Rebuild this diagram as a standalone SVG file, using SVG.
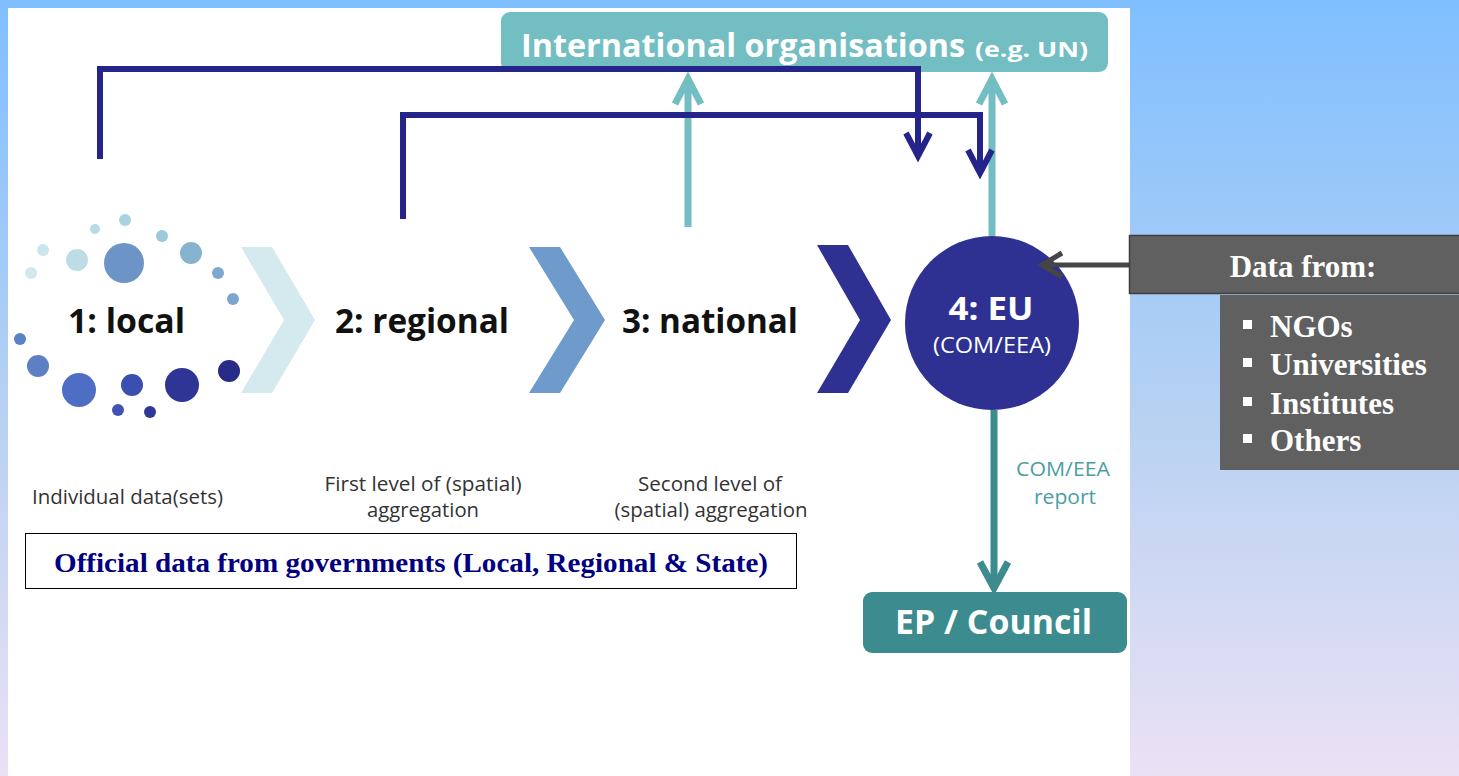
<svg xmlns="http://www.w3.org/2000/svg" width="1459" height="776" viewBox="0 0 1459 776">
<defs>
<linearGradient id="bg" x1="0" y1="0" x2="0" y2="1">
<stop offset="0" stop-color="#7fbfff"/>
<stop offset="0.55" stop-color="#b9d2f2"/>
<stop offset="1" stop-color="#ebe1f5"/>
</linearGradient>
</defs>
<style>
.lbl{font-family:"Open Sans","Liberation Sans",sans-serif;font-weight:700;fill:#111;}
.sub{font-family:"Open Sans","Liberation Sans",sans-serif;font-weight:400;fill:#333;font-size:20px;}
.wt{font-family:"Open Sans","Liberation Sans",sans-serif;font-weight:700;fill:#fff;}
.tm{font-family:"Liberation Serif","Times New Roman",serif;font-weight:bold;}
.blue{fill:none;stroke:#24248a;stroke-width:6;}
.tealL{fill:none;stroke:#72bec2;stroke-width:7;}
.tealD{fill:none;stroke:#3b8b8f;stroke-width:7;}
.gray{fill:none;stroke:#454545;stroke-width:5;}
</style>
<rect x="0" y="0" width="1459" height="776" fill="url(#bg)"/>
<rect x="8" y="8" width="1122" height="768" fill="#ffffff"/>

<g id="intl">
<rect x="501" y="12" width="607" height="60" rx="9" fill="#72bec2"/>
<text class="wt" x="521" y="57" font-size="33" textLength="444" lengthAdjust="spacingAndGlyphs">International organisations</text>
<text class="wt" x="975" y="57" font-size="22" textLength="113" lengthAdjust="spacingAndGlyphs">(e.g. UN)</text>
</g>

<g id="local">
<circle cx="125" cy="220" r="6" fill="#a9d3e0"/>
<circle cx="95" cy="229" r="5" fill="#b6dbe6"/>
<circle cx="162" cy="236" r="6" fill="#9cc8dc"/>
<circle cx="43" cy="250" r="6" fill="#cbe5ec"/>
<circle cx="77" cy="260" r="11" fill="#bcdde6"/>
<circle cx="124" cy="263" r="20" fill="#6c94c6"/>
<circle cx="191" cy="253" r="11" fill="#86b4cf"/>
<circle cx="31" cy="273" r="6" fill="#d3e8ee"/>
<circle cx="218" cy="273" r="6" fill="#7fa9cc"/>
<circle cx="233" cy="299" r="6" fill="#7aa6cf"/>
<circle cx="20" cy="339" r="6" fill="#5a82c6"/>
<circle cx="38" cy="366" r="11" fill="#5b80c4"/>
<circle cx="79" cy="390" r="17" fill="#4d6ec4"/>
<circle cx="132" cy="385" r="11" fill="#3b4fb0"/>
<circle cx="182" cy="385" r="17" fill="#2f3594"/>
<circle cx="229" cy="371" r="11" fill="#272c88"/>
<circle cx="118" cy="410" r="6" fill="#4253b2"/>
<circle cx="150" cy="412" r="6" fill="#30379a"/>
<text class="lbl" x="68" y="333" font-size="34" textLength="117" lengthAdjust="spacingAndGlyphs">1: local</text>
<text class="sub" x="32" y="504" textLength="191" lengthAdjust="spacingAndGlyphs">Individual data(sets)</text>
</g>

<g id="chevrons">
<polygon points="241,247 272,247 315,320 272,393 241,393 284,320" fill="#d5eaef"/>
<polygon points="529,247 560,247 605,320 560,393 529,393 574,320" fill="#6e9bcc"/>
<polygon points="817,245 848,245 891,320 848,393 817,393 860,320" fill="#2e3192"/>
</g>

<g id="regional">
<text class="lbl" x="335" y="333" font-size="34" textLength="174" lengthAdjust="spacingAndGlyphs">2: regional</text>
<text class="sub" x="423" y="491" text-anchor="middle" textLength="197" lengthAdjust="spacingAndGlyphs">First level of (spatial)</text>
<text class="sub" x="423" y="517" text-anchor="middle" textLength="112" lengthAdjust="spacingAndGlyphs">aggregation</text>
</g>

<g id="national">
<text class="lbl" x="622" y="333" font-size="34" textLength="176" lengthAdjust="spacingAndGlyphs">3: national</text>
<text class="sub" x="710" y="491" text-anchor="middle" textLength="144" lengthAdjust="spacingAndGlyphs">Second level of</text>
<text class="sub" x="711" y="517" text-anchor="middle" textLength="193" lengthAdjust="spacingAndGlyphs">(spatial) aggregation</text>
</g>

<g id="official">
<rect x="25.5" y="533.5" width="771" height="55" fill="#ffffff" stroke="#000" stroke-width="1"/>
<text class="tm" x="411" y="572" text-anchor="middle" font-size="28" fill="#000080" textLength="714" lengthAdjust="spacingAndGlyphs">Official data from governments (Local, Regional &amp; State)</text>
</g>

<g id="eu">
<circle cx="992" cy="323" r="87" fill="#2e3192"/>
<text class="wt" x="991" y="320" text-anchor="middle" font-size="32" textLength="85" lengthAdjust="spacingAndGlyphs">4: EU</text>
<text x="992" y="353" text-anchor="middle" font-family="Open Sans, Liberation Sans, sans-serif" font-size="21" fill="#fff" textLength="118" lengthAdjust="spacingAndGlyphs">(COM/EEA)</text>
</g>

<g id="report-label">
<text x="1063" y="476" text-anchor="middle" font-family="Open Sans, Liberation Sans, sans-serif" font-size="20" fill="#4a9ea4" textLength="94" lengthAdjust="spacingAndGlyphs">COM/EEA</text>
<text x="1065" y="504" text-anchor="middle" font-family="Open Sans, Liberation Sans, sans-serif" font-size="20" fill="#4a9ea4" textLength="62" lengthAdjust="spacingAndGlyphs">report</text>
</g>

<g id="ep-council">
<rect x="863" y="592" width="264" height="61" rx="9" fill="#3b8b8f"/>
<text class="wt" x="895" y="634" font-size="34" textLength="197" lengthAdjust="spacingAndGlyphs">EP / Council</text>
</g>

<g id="data-from">
<rect x="1129.5" y="235.5" width="335" height="58" fill="#606060" stroke="#3e3e3e" stroke-width="1.5"/>
<text class="tm" x="1303" y="277" text-anchor="middle" font-size="31" fill="#fff">Data from:</text>
</g>

<g id="sources">
<rect x="1220" y="295" width="245" height="175" fill="#606060"/>
<g fill="#fff">
<rect x="1243" y="320" width="9" height="9"/>
<rect x="1243" y="358" width="9" height="9"/>
<rect x="1243" y="397" width="9" height="9"/>
<rect x="1243" y="434" width="9" height="9"/>
</g>
<g class="tm" font-size="31" fill="#fff">
<text x="1270" y="337">NGOs</text>
<text x="1270" y="375">Universities</text>
<text x="1270" y="414">Institutes</text>
<text x="1270" y="451">Others</text>
</g>
</g>

<g id="connectors">
<path class="tealL" d="M688,227 V79"/>
<path class="tealL" d="M675,104 L688,79 L701,104"/>
<path class="tealL" d="M992,236 V79"/>
<path class="tealL" d="M979,104 L992,79 L1005,104"/>
<path class="tealD" d="M994,410 V587"/>
<path class="tealD" d="M980,562 L994,588 L1008,562"/>
<path class="blue" d="M100,159 V69 H918 V155"/>
<path class="blue" d="M906,133 L918,156 L930,133"/>
<path class="blue" d="M403,219 V115 H980 V172"/>
<path class="blue" d="M968,150 L980,173 L992,150"/>
<path class="gray" d="M1129,265 H1043"/>
<path class="gray" d="M1062,253 L1042,265 L1062,277"/>
</g>
</svg>
